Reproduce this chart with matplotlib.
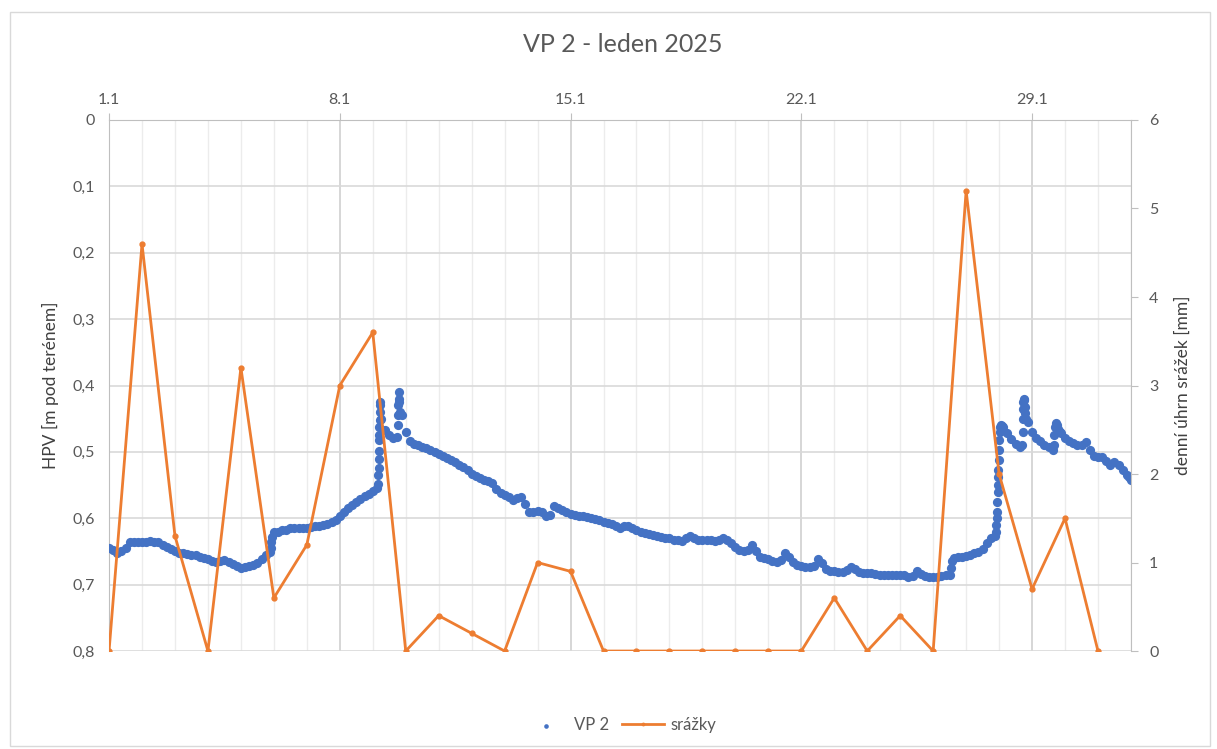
import numpy as np
import matplotlib.pyplot as plt
from matplotlib.patches import Rectangle

plt.rcParams['font.family'] = ['Lato', 'DejaVu Sans']

# popisky osy x (nahoře) a jejich pozice ve dnech od 1.1. 0:00
datum_pos = [0, 7, 14, 21, 28]
datum_txt = ['1.1', '8.1', '15.1', '22.1', '29.1']

# denní úhrn srážek 1.1.–31.1. [mm]
srazky = [0, 4.6, 1.3, 0, 3.2, 0.6, 1.2, 3.0, 3.6, 0, 0.4, 0.2, 0, 1.0, 0.9,
          0, 0, 0, 0, 0, 0, 0, 0.6, 0, 0.4, 0, 5.2, 2.0, 0.7, 1.5, 0]

# VP 2 - hladina [m pod terénem] po 3 hodinách (0, 3, ..., 21 h), řádek = den
vp2_den = [
    [0.645, 0.648, 0.652, 0.650, 0.645, 0.636, 0.635, 0.635],
    [0.635, 0.635, 0.634, 0.635, 0.636, 0.640, 0.644, 0.647],
    [0.650, 0.652, 0.653, 0.654, 0.655, 0.656, 0.658, 0.660],
    [0.662, 0.664, 0.666, 0.664, 0.663, 0.666, 0.669, 0.672],
    [0.675, 0.673, 0.672, 0.670, 0.668, 0.662, 0.656, 0.651],
    [0.621, 0.620, 0.618, 0.617, 0.615, 0.614, 0.614, 0.614],
    [0.614, 0.613, 0.612, 0.611, 0.610, 0.608, 0.606, 0.603],
    [0.597, 0.591, 0.585, 0.580, 0.576, 0.571, 0.567, 0.563],
    [0.559, 0.555, 0.450, 0.467, 0.474, 0.479, 0.478, 0.444],
    [0.470, 0.484, 0.488, 0.490, 0.492, 0.494, 0.497, 0.500],
    [0.503, 0.506, 0.509, 0.512, 0.515, 0.519, 0.523, 0.527],
    [0.533, 0.537, 0.540, 0.542, 0.544, 0.547, 0.556, 0.562],
    [0.565, 0.568, 0.572, 0.570, 0.568, 0.578, 0.590, 0.590],
    [0.589, 0.591, 0.596, 0.595, 0.582, 0.584, 0.588, 0.590],
    [0.593, 0.595, 0.597, 0.597, 0.598, 0.599, 0.601, 0.603],
    [0.605, 0.607, 0.609, 0.612, 0.615, 0.611, 0.612, 0.615],
    [0.618, 0.620, 0.622, 0.623, 0.625, 0.626, 0.628, 0.629],
    [0.630, 0.632, 0.633, 0.634, 0.630, 0.626, 0.630, 0.633],
    [0.632, 0.633, 0.633, 0.634, 0.632, 0.630, 0.632, 0.637],
    [0.643, 0.648, 0.649, 0.648, 0.640, 0.650, 0.658, 0.660],
    [0.662, 0.664, 0.666, 0.663, 0.653, 0.658, 0.666, 0.671],
    [0.672, 0.673, 0.673, 0.672, 0.661, 0.668, 0.677, 0.679],
    [0.680, 0.681, 0.681, 0.678, 0.673, 0.677, 0.681, 0.682],
    [0.683, 0.683, 0.684, 0.685, 0.686, 0.686, 0.686, 0.686],
    [0.686, 0.686, 0.688, 0.687, 0.680, 0.684, 0.687, 0.688],
    [0.688, 0.688, 0.687, 0.686, 0.686, 0.660, 0.658, 0.658],
    [0.657, 0.655, 0.653, 0.651, 0.646, 0.638, 0.630, 0.626],
    [0.497, 0.463, 0.472, 0.480, 0.488, 0.492, 0.420, 0.455],
    [0.470, 0.479, 0.484, 0.489, 0.493, 0.497, 0.460, 0.472],
    [0.479, 0.484, 0.487, 0.489, 0.490, 0.485, 0.497, 0.506],
    [0.507, 0.507, 0.513, 0.519, 0.515, 0.520, 0.527, 0.535],
]

# mezihodnoty a rychlé vzestupy - čas ve dnech od 1.1. 0:00
vzestup_t = [4.90, 4.92, 4.93,
             8.16, 8.17, 8.175, 8.18, 8.185, 8.19, 8.195, 8.20, 8.205, 8.21, 8.215, 8.22,
             8.76, 8.77, 8.78, 8.785, 8.79, 8.80, 8.82,
             25.55, 25.58,
             26.91, 26.92, 26.93, 26.94, 26.95, 26.96, 26.965, 26.97, 26.98, 26.99,
             27.01, 27.02, 27.04, 27.07, 27.1,
             27.70, 27.71, 27.72, 27.73, 27.74, 27.76, 27.78, 27.80, 27.83,
             28.66, 28.68, 28.70, 28.72, 28.78, 28.82, 28.85, 30.95, 30.99]
vzestup_h = [0.645, 0.635, 0.628,
             0.548, 0.535, 0.524, 0.510, 0.498, 0.482, 0.475, 0.463, 0.452, 0.440, 0.430, 0.425,
             0.460, 0.445, 0.430, 0.420, 0.410, 0.425, 0.440,
             0.675, 0.665,
             0.620, 0.610, 0.600, 0.590, 0.575, 0.560, 0.550, 0.538, 0.527, 0.512,
             0.482, 0.470, 0.462, 0.460, 0.461,
             0.490, 0.470, 0.450, 0.435, 0.425, 0.422, 0.432, 0.442, 0.450,
             0.490, 0.475, 0.462, 0.457, 0.465, 0.468, 0.470, 0.538, 0.542]

vp2_h = np.array(vp2_den).ravel()
vp2_t = np.repeat(np.arange(len(vp2_den)), 8) + np.tile(np.arange(8) * 3 / 24, len(vp2_den))
vp2_t = np.concatenate([vp2_t, vzestup_t])
vp2_h = np.concatenate([vp2_h, vzestup_h])
dny = np.arange(len(srazky))

seda = '#595959'
fig = plt.figure(figsize=(12.17, 7.49), dpi=100)
fig.patches.append(Rectangle((0.008, 0.004), 0.986, 0.98, transform=fig.transFigure,
                             fill=False, edgecolor='#d9d9d9', linewidth=1))

ax = fig.add_axes([0.0896, 0.1308, 0.8397, 0.709])
ax2 = ax.twinx()

ax.scatter(vp2_t, vp2_h, s=44, color='#4472C4', linewidths=0, label='VP 2', zorder=3)
ax2.plot(dny, srazky, color='#ED7D31', linewidth=2, marker='o', markersize=3.5,
         label='srážky', zorder=3)

ax.set_xlim(0, 31)
ax.set_ylim(0.8, 0)
ax2.set_ylim(0, 6)

ax.set_xticks(datum_pos)
ax.set_xticklabels(datum_txt)
ax.set_xticks(np.arange(0, 32), minor=True)
ax.xaxis.tick_top()
ax.tick_params(axis='x', which='major', direction='out', length=5, color='#bfbfbf',
               labelsize=11.5, labelcolor=seda, pad=4)
ax.tick_params(axis='x', which='minor', length=0)

ax.set_yticks(np.arange(0, 0.81, 0.1))
ax.set_yticklabels(['0'] + [f'0,{i}' for i in range(1, 9)])
ax.tick_params(axis='y', length=0, labelsize=11.5, labelcolor=seda, pad=10)
ax2.set_yticks(range(7))
ax2.tick_params(axis='y', direction='out', length=5, color='#bfbfbf',
                labelsize=11.5, labelcolor=seda, pad=8)

ax.grid(True, axis='y', color='#d9d9d9', linewidth=1.2)
ax.grid(True, axis='x', which='major', color='#d0d0d0', linewidth=1.2)
ax.grid(True, axis='x', which='minor', color='#ececec', linewidth=1)
ax.set_axisbelow(True)

for a in (ax, ax2):
    for s in a.spines.values():
        s.set_visible(False)
ax.spines['left'].set_visible(True)
ax.spines['left'].set_color('#bfbfbf')
ax.spines['top'].set_visible(True)
ax.spines['top'].set_color('#bfbfbf')
ax2.spines['right'].set_visible(True)
ax2.spines['right'].set_color('#bfbfbf')

ax.set_ylabel('HPV [m pod terénem]', fontsize=12.5, color='#404040', labelpad=10)
ax2.set_ylabel('denní úhrn srážek [mm]', fontsize=12.5, color='#404040', labelpad=12)

fig.text(0.512, 0.94, 'VP 2 - leden 2025', ha='center', va='center', fontsize=18, color=seda)

h1, l1 = ax.get_legend_handles_labels()
h2, l2 = ax2.get_legend_handles_labels()
fig.legend(h1 + h2, l1 + l2, loc='center', bbox_to_anchor=(0.51, 0.032), ncol=2,
           frameon=False, fontsize=12, labelcolor=seda, handlelength=2.5,
           columnspacing=0.8, handletextpad=0.4, scatterpoints=1, markerscale=0.5)

plt.savefig('out.png', dpi=100)
